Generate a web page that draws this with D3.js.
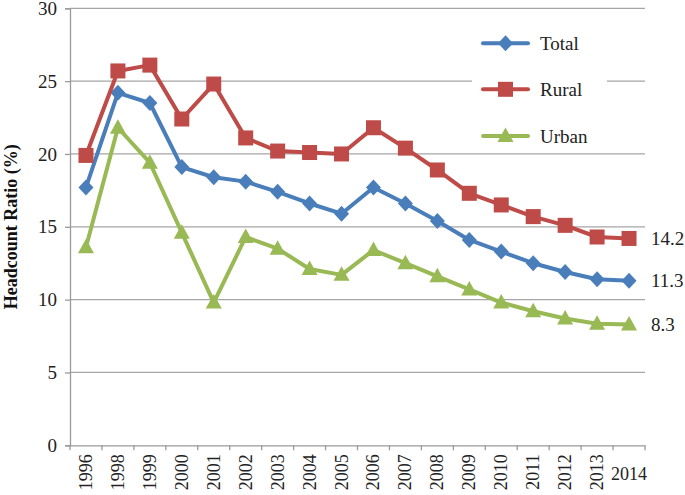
<!DOCTYPE html>
<html><head><meta charset="utf-8">
<script src="https://cdn.jsdelivr.net/npm/d3@7"></script>
<style>
html,body{margin:0;padding:0;background:#fff;}
svg{display:block;}
</style></head>
<body><svg id="c" width="685" height="495" font-family="Liberation Serif"></svg>
<script>
const years = ["1996","1998","1999","2000","2001","2002","2003","2004","2005","2006","2007","2008","2009","2010","2011","2012","2013","2014"];
const total = [17.7,24.2,23.5,19.1,18.4,18.1,17.4,16.6,15.9,17.7,16.6,15.4,14.1,13.3,12.5,11.9,11.4,11.3];
const rural = [19.9,25.7,26.1,22.4,24.8,21.1,20.2,20.1,20.0,21.8,20.4,18.9,17.3,16.5,15.7,15.1,14.3,14.2];
const urban = [13.6,21.8,19.4,14.6,9.8,14.3,13.5,12.1,11.7,13.4,12.5,11.6,10.7,9.8,9.2,8.7,8.35,8.3];
const yTicks = [0,5,10,15,20,25,30];
const seriesNames = ["Total","Rural","Urban"];
const seriesColors = ["#4A7EBB","#BE4B48","#98B954"];
const endLabels = ["11.3","14.2","8.3"];

const FONT = "Liberation Serif";
const svg = d3.select("#c");
const L = 70, R = 645, T = 8.3, B = 445.3;
const x = d3.scaleBand().domain(years).range([L, R]);
const y = d3.scaleLinear().domain([0, 30]).range([B, T]);

// gridlines
svg.append("g").selectAll("line").data(yTicks.filter(d => d > 0)).join("line")
  .attr("x1", L).attr("x2", R).attr("y1", d => y(d)).attr("y2", d => y(d))
  .attr("stroke", "#A6A6A6").attr("stroke-width", 1.3);

// legend background box (hides gridline at 25)
svg.append("rect").attr("x", 472).attr("y", 18).attr("width", 135).attr("height", 130).attr("fill", "#fff");

// y axis
const yAxis = svg.append("g").attr("transform", `translate(${L},0)`)
  .call(d3.axisLeft(y).tickValues(yTicks).tickSize(5).tickPadding(8));
yAxis.attr("font-family", FONT);
yAxis.select(".domain").attr("stroke", "#9A9A9A").attr("stroke-width", 1.3);
yAxis.selectAll(".tick line").attr("stroke", "#9A9A9A").attr("stroke-width", 1.3);
yAxis.selectAll(".tick text").attr("font-size", 19).attr("fill", "#222").attr("font-family", FONT);

// x axis
const xAxis = svg.append("g").attr("transform", `translate(0,${B})`)
  .call(d3.axisBottom(x).tickSize(0).tickFormat(""));
xAxis.attr("font-family", FONT);
xAxis.select(".domain").attr("stroke", "#9A9A9A").attr("stroke-width", 1.3);
const bounds = years.map(d => x(d)).concat([R]);
xAxis.append("g").selectAll("line").data(bounds).join("line")
  .attr("x1", d => d).attr("x2", d => d).attr("y1", 0).attr("y2", 5)
  .attr("stroke", "#9A9A9A").attr("stroke-width", 1.3);
xAxis.append("g").selectAll("text").data(years).join("text")
  .attr("font-size", 18).attr("fill", "#222").attr("font-family", FONT)
  .attr("transform", (d, i) => i === years.length - 1
      ? `translate(${x(d) + x.bandwidth() / 2},${35})`
      : `translate(${x(d) + x.bandwidth() / 2 + 6},${9}) rotate(-90)`)
  .attr("text-anchor", (d, i) => i === years.length - 1 ? "middle" : "end")
  .text(d => d);

// y title
svg.append("text").attr("transform", `translate(17,${(T + B) / 2}) rotate(-90)`)
  .attr("text-anchor", "middle").attr("font-size", 18).attr("font-weight", "bold").attr("fill", "#111")
  .attr("font-family", FONT)
  .text("Headcount Ratio (%)");

const data = [total, rural, urban];
const line = d3.line().x((d, i) => x(years[i]) + x.bandwidth() / 2).y(d => y(d));

function marker(g, type, color, cx, cy) {
  if (type === 0) {
    g.append("path").attr("d", `M${cx},${cy - 8}L${cx + 7.5},${cy}L${cx},${cy + 8}L${cx - 7.5},${cy}Z`).attr("fill", color);
  } else if (type === 1) {
    g.append("rect").attr("x", cx - 7.5).attr("y", cy - 7.5).attr("width", 15).attr("height", 15).attr("fill", color);
  } else {
    g.append("path").attr("d", `M${cx},${cy - 8.5}L${cx + 8},${cy + 6}L${cx - 8},${cy + 6}Z`).attr("fill", color);
  }
}

[2, 0, 1].forEach(s => {
  const g = svg.append("g");
  g.append("path").datum(data[s]).attr("d", line).attr("fill", "none")
    .attr("stroke", seriesColors[s]).attr("stroke-width", 4).attr("stroke-linejoin", "round");
  data[s].forEach((v, i) => marker(g, s, seriesColors[s], x(years[i]) + x.bandwidth() / 2, y(v)));
  const last = data[s][data[s].length - 1];
  svg.append("text").attr("x", 651).attr("y", y(last)).attr("dy", "0.35em")
    .attr("font-size", 19).attr("fill", "#222").attr("font-family", FONT).text(endLabels[s]);
});

// legend
const legY = [43.3, 89.3, 136];
seriesNames.forEach((n, s) => {
  const g = svg.append("g");
  g.append("line").attr("x1", 483).attr("x2", 528).attr("y1", legY[s]).attr("y2", legY[s])
    .attr("stroke", seriesColors[s]).attr("stroke-width", 4).attr("stroke-linecap", "round");
  marker(g, s, seriesColors[s], 505.5, legY[s]);
  g.append("text").attr("x", 540).attr("y", legY[s]).attr("dy", "0.35em")
    .attr("font-size", 19).attr("fill", "#222").attr("font-family", FONT).text(n);
});
</script></body></html>
